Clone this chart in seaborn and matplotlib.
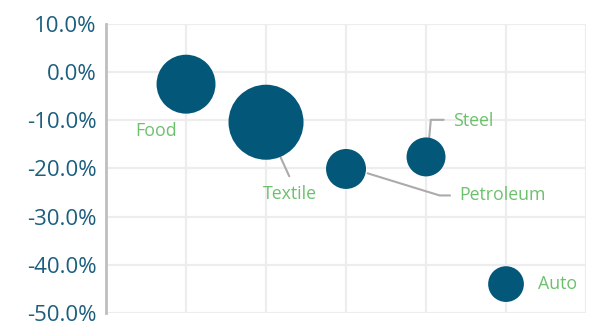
import numpy as np
import pandas as pd
import seaborn as sns
import matplotlib.pyplot as plt
from matplotlib.ticker import FuncFormatter

# data
industries = ['Food', 'Textile', 'Petroleum', 'Steel', 'Auto']
x_pos = [1, 2, 3, 4, 5]
growth = [-2.5, -10.4, -20.1, -17.6, -44.0]
bubble_size = [87, 141, 40, 38, 32]

df = pd.DataFrame({'industry': industries, 'x': x_pos,
                   'growth': growth, 'size': bubble_size})

sns.set_theme(style='white')
plt.rcParams['font.family'] = ['Open Sans', 'DejaVu Sans']

fig = plt.figure(figsize=(5.97, 3.24), dpi=100)
ax = fig.add_axes([0.1776, 0.034, 0.8040, 0.892])

# marker area proportional to size value (Excel bubble style)
k = 20.7
sns.scatterplot(data=df, x='x', y='growth', size='size',
                sizes=(min(bubble_size) * k, max(bubble_size) * k),
                color='#03587A', edgecolor='none', alpha=1, legend=False,
                ax=ax, zorder=3)

ax.set_xlim(0, 6)
ax.set_ylim(-50, 10)
ax.set_xticks(np.arange(0, 7, 1))
ax.set_yticks(np.arange(-50, 11, 10))
ax.set_xticklabels([])
ax.yaxis.set_major_formatter(FuncFormatter(lambda v, p: f'{v:.1f}%'))
ax.tick_params(axis='y', labelsize=16, labelcolor='#1B5E7E', length=0, pad=7)
ax.tick_params(axis='x', length=0)
ax.grid(True, color='#EDEDED', linewidth=1.6, zorder=0)
ax.set_axisbelow(True)
ax.set_xlabel('')
ax.set_ylabel('')

for s in ['top', 'right', 'bottom']:
    ax.spines[s].set_visible(False)
ax.spines['left'].set_color('#BFBFBF')
ax.spines['left'].set_linewidth(2)

green = '#6CC16C'
lab = dict(color=green, fontsize=12.8, va='center')
lead = dict(color='#ABABAB', linewidth=1.5, zorder=2)

ax.text(0.63, -12.2, 'Food', ha='center', **lab)
ax.text(5.65, -44.0, 'Auto', ha='center', **lab)

# Textile with leader line
ax.plot([2.18, 2.29], [-17.6, -21.6], **lead)
ax.text(2.3, -25.3, 'Textile', ha='center', **lab)

# Steel with leader line
ax.plot([4.04, 4.06, 4.22], [-13.6, -9.9, -9.9], **lead)
ax.text(4.34, -10.2, 'Steel', ha='left', **lab)

# Petroleum with leader line
ax.plot([3.27, 4.17, 4.3], [-21.0, -25.6, -25.6], **lead)
ax.text(4.42, -25.6, 'Petroleum', ha='left', **lab)

fig.savefig('out.png', dpi=100)
